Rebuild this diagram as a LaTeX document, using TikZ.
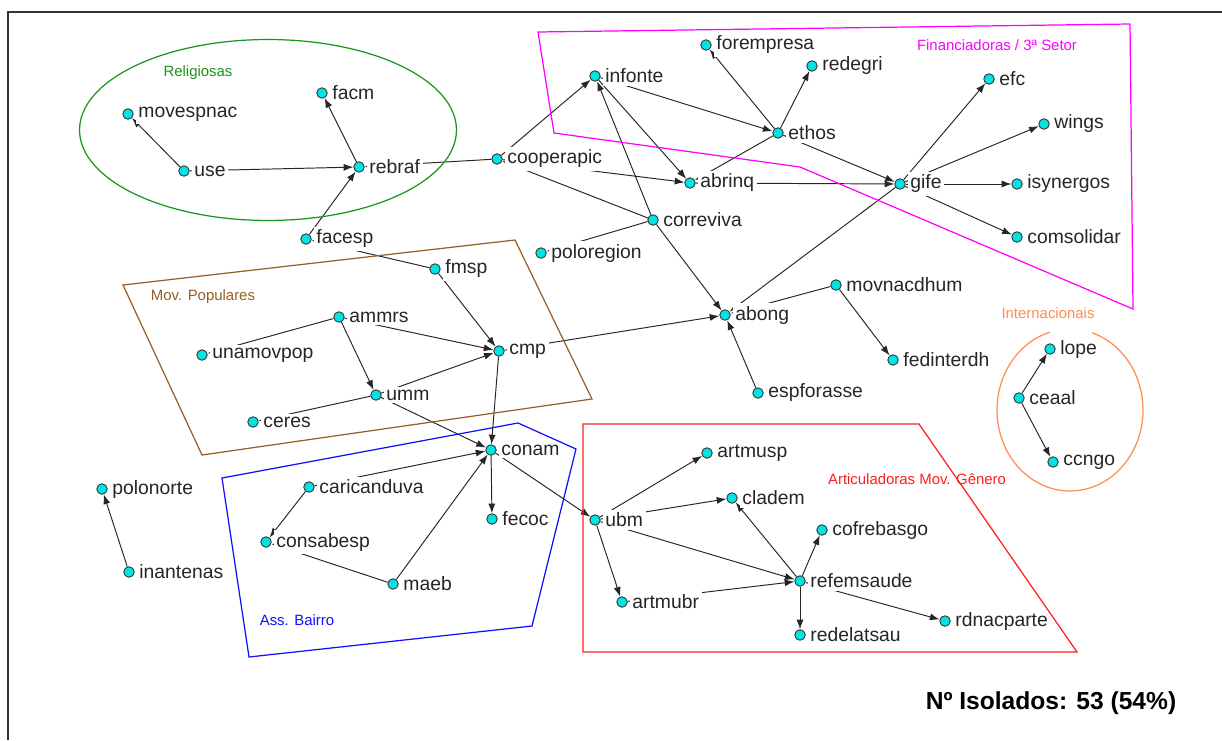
\documentclass[tikz,border=0pt]{standalone}
\usepackage{fontspec}
\setmainfont{Liberation Sans}
\usetikzlibrary{arrows.meta,backgrounds}

\definecolor{dotcyan}{RGB}{0,228,228}
\definecolor{relgreen}{RGB}{25,150,25}
\definecolor{popbrown}{RGB}{150,95,40}
\definecolor{finmagenta}{RGB}{255,0,255}
\definecolor{intorange}{RGB}{255,140,80}
\definecolor{genred}{RGB}{255,30,30}
\definecolor{bairblue}{RGB}{15,15,255}

\begin{document}
\begin{tikzpicture}[x=0.02cm, y=-0.02cm, label distance=1pt,
    org/.style={circle, draw=black!80, fill=dotcyan, line width=0.5pt, inner sep=0pt, minimum size=0.21cm},
    every label/.style={fill=white, inner sep=1.5pt, text=black!85, font=\fontsize{11}{12}\selectfont},
    link/.style={-{Latex[length=5.5pt,width=4pt]}, line width=0.55pt, black!85},
    grp/.style={font=\fontsize{8.5}{10}\selectfont},
    area/.style={line width=0.7pt}]
      \useasboundingbox (0,0) rectangle (1222,740);
      \draw [line width=1.1pt, black!80] (8,740) -- (8,12) -- (1222,12);

      \node [grp, text=relgreen] (religiosas) at (198,73) {Religiosas};
      \node [grp, text=popbrown] (populares) at (203,297) {Mov. Populares};
      \node [grp, text=finmagenta] (financiadoras) at (997,45) {Financiadoras / 3ª Setor};
      \node [grp, text=intorange] (internacionais) at (1048,313) {Internacionais};
      \node [grp, text=genred] (genero) at (917,479) {Articuladoras Mov. Gênero};
      \node [grp, text=bairblue] (bairro) at (297,620) {Ass. Bairro};

      \node [org, label=right:movespnac] (movespnac) at (128,114) {};
      \node [org, label=right:facm] (facm) at (322,93) {};
      \node [org, label=right:use] (use) at (184,171) {};
      \node [org, label=right:rebraf] (rebraf) at (359,167) {};
      \node [org, label=right:facesp] (facesp) at (306,239) {};
      \node [org, label=right:cooperapic] (cooperapic) at (497,159) {};
      \node [org, label=right:infonte] (infonte) at (595,76) {};
      \node [org, label=right:forempresa] (forempresa) at (706,45) {};
      \node [org, label=right:redegri] (redegri) at (812,66) {};
      \node [org, label=right:ethos] (ethos) at (778,133) {};
      \node [org, label=right:abrinq] (abrinq) at (690,183) {};
      \node [org, label=right:correviva] (correviva) at (653,220) {};
      \node [org, label=right:poloregion] (poloregion) at (541,253) {};
      \node [org, label=right:gife] (gife) at (900,184) {};
      \node [org, label=right:efc] (efc) at (989,79) {};
      \node [org, label=right:wings] (wings) at (1044,124) {};
      \node [org, label=right:isynergos] (isynergos) at (1017,184) {};
      \node [org, label=right:comsolidar] (comsolidar) at (1017,237) {};
      \node [org, label=right:fmsp] (fmsp) at (435,269) {};
      \node [org, label=right:ammrs] (ammrs) at (339,317) {};
      \node [org, label=right:unamovpop] (unamovpop) at (202,355) {};
      \node [org, label=right:cmp] (cmp) at (499,351) {};
      \node [org, label=right:umm] (umm) at (376,395) {};
      \node [org, label=right:ceres] (ceres) at (253,422) {};
      \node [org, label=right:abong] (abong) at (725,315) {};
      \node [org, label=right:movnacdhum] (movnacdhum) at (836,285) {};
      \node [org, label=right:fedinterdh] (fedinterdh) at (893,360) {};
      \node [org, label=right:espforasse] (espforasse) at (758,393) {};
      \node [org, label=right:lope] (lope) at (1050,349) {};
      \node [org, label=right:ceaal] (ceaal) at (1019,398) {};
      \node [org, label=right:ccngo] (ccngo) at (1053,462) {};
      \node [org, label=right:conam] (conam) at (491,450) {};
      \node [org, label=right:caricanduva] (caricanduva) at (309,487) {};
      \node [org, label=right:polonorte] (polonorte) at (102,489) {};
      \node [org, label=right:fecoc] (fecoc) at (492,519) {};
      \node [org, label=right:consabesp] (consabesp) at (266,542) {};
      \node [org, label=right:inantenas] (inantenas) at (129,572) {};
      \node [org, label=right:maeb] (maeb) at (393,584) {};
      \node [org, label=right:artmusp] (artmusp) at (707,453) {};
      \node [org, label=right:cladem] (cladem) at (732,498) {};
      \node [org, label=right:ubm] (ubm) at (595,520) {};
      \node [org, label=right:cofrebasgo] (cofrebasgo) at (822,530) {};
      \node [org, label=right:refemsaude] (refemsaude) at (800,581) {};
      \node [org, label=right:artmubr] (artmubr) at (622,602) {};
      \node [org, label=right:rdnacparte] (rdnacparte) at (945,621) {};
      \node [org, label=right:redelatsau] (redelatsau) at (800,635) {};

      \node [font=\bfseries\fontsize{14}{16}\selectfont] (isolados) at (1051,703) {Nº Isolados: 53 (54\%)};

      \draw [area, relgreen] (268,130) ellipse [x radius=3.77cm, y radius=1.81cm];
      \draw [area, popbrown] (123,285) -- (515,240) -- (592,399) -- (202,455) -- cycle;
      \draw [area, finmagenta] (538,32) -- (1130,24) -- (1133,309) -- (800,167) -- (554,133) -- cycle;
      \draw [area, intorange] (1070,410) ++(106:1.46cm and 1.62cm)
        arc [start angle=106, end angle=432.5, x radius=1.46cm, y radius=1.62cm];
      \draw [area, genred] (583,424) -- (919,424) -- (1077,652) -- (583,652) -- cycle;
      \draw [area, bairblue] (222,478) -- (518,423) -- (576,449) -- (532,626) -- (249,657) -- cycle;

      \begin{scope}[on background layer]
      \draw [link] (use) -- (movespnac);
      \draw [link] (rebraf) -- (facm);
      \draw [link] (use) -- (rebraf);
      \draw [link] (facesp) -- (rebraf);
      \draw [link] (cooperapic) -- (rebraf);
      \draw [link] (cooperapic) -- (infonte);
      \draw [link] (cooperapic) -- (abrinq);
      \draw [link] (correviva) -- (cooperapic);
      \draw [link] (correviva) -- (infonte);
      \draw [link] (correviva) -- (abong);
      \draw [link] (correviva) -- (poloregion);
      \draw [link] (infonte) -- (abrinq);
      \draw [link] (infonte) -- (ethos);
      \draw [link] (ethos) -- (forempresa);
      \draw [link] (ethos) -- (redegri);
      \draw [link] (ethos) -- (abrinq);
      \draw [link] (ethos) -- (gife);
      \draw [link] (abrinq) -- (gife);
      \draw [link] (gife) -- (efc);
      \draw [link] (gife) -- (wings);
      \draw [link] (gife) -- (isynergos);
      \draw [link] (gife) -- (comsolidar);
      \draw [link] (gife) -- (abong);
      \draw [link] (movnacdhum) -- (abong);
      \draw [link] (movnacdhum) -- (fedinterdh);
      \draw [link] (espforasse) -- (abong);
      \draw [link] (cmp) -- (abong);
      \draw [link] (fmsp) -- (facesp);
      \draw [link] (fmsp) -- (cmp);
      \draw [link] (ammrs) -- (cmp);
      \draw [link] (ammrs) -- (umm);
      \draw [link] (ammrs) -- (unamovpop);
      \draw [link] (umm) -- (cmp);
      \draw [link] (umm) -- (ceres);
      \draw [link] (umm) -- (conam);
      \draw [link] (cmp) -- (conam);
      \draw [link] (caricanduva) -- (conam);
      \draw [link] (caricanduva) -- (consabesp);
      \draw [link] (maeb) -- (conam);
      \draw [link] (maeb) -- (consabesp);
      \draw [link] (conam) -- (fecoc);
      \draw [link] (conam) -- (ubm);
      \draw [link] (ubm) -- (artmusp);
      \draw [link] (ubm) -- (cladem);
      \draw [link] (ubm) -- (refemsaude);
      \draw [link] (ubm) -- (artmubr);
      \draw [link] (refemsaude) -- (cladem);
      \draw [link] (refemsaude) -- (cofrebasgo);
      \draw [link] (artmubr) -- (refemsaude);
      \draw [link] (refemsaude) -- (redelatsau);
      \draw [link] (refemsaude) -- (rdnacparte);
      \draw [link] (inantenas) -- (polonorte);
      \draw [link] (ceaal) -- (lope);
      \draw [link] (ceaal) -- (ccngo);
      \end{scope}
\end{tikzpicture}
\end{document}
